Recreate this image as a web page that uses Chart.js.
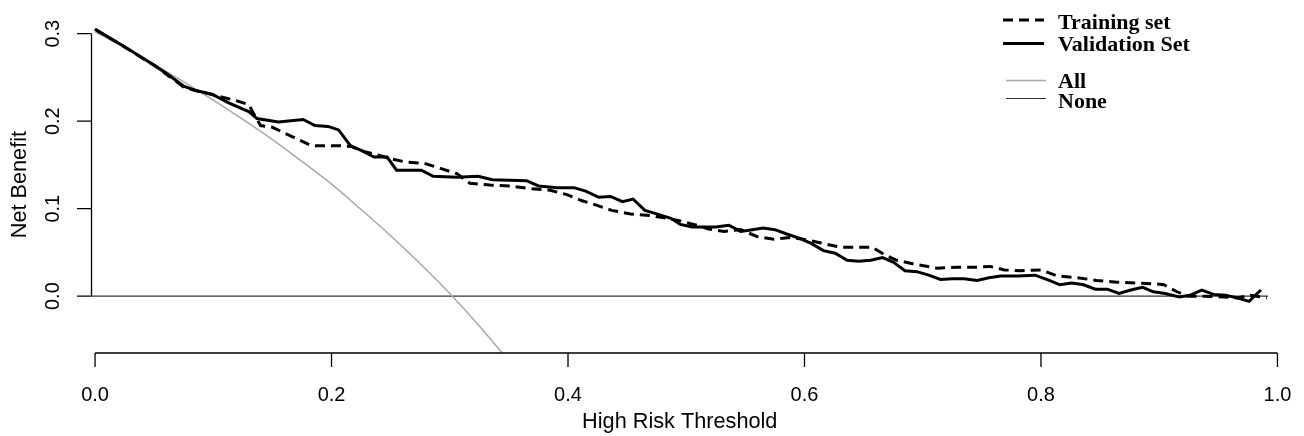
<!DOCTYPE html>
<html><head><meta charset="utf-8">
<script src="https://cdn.jsdelivr.net/npm/chart.js@4.4.1/dist/chart.umd.min.js"></script>
<style>html,body{margin:0;padding:0;background:#fff;}#wrap{width:1304px;height:436px;}</style>
</head><body><div id="wrap"><canvas id="c" width="1304" height="436"></canvas></div>
<script>
// ---- data ----
const seriesNames = ["Training set", "Validation Set", "All", "None"];

const thresholdsTraining = [0.000,0.020,0.051,0.062,0.075,0.085,0.103,0.118,0.130,0.134,0.140,0.150,0.161,0.172,0.183,0.206,0.217,0.228,0.240,0.250,0.264,0.278,0.292,0.306,0.317,0.334,0.351,0.368,0.385,0.399,0.412,0.424,0.437,0.453,0.470,0.484,0.495,0.503,0.512,0.518,0.532,0.546,0.560,0.574,0.588,0.599,0.613,0.630,0.644,0.657,0.667,0.678,0.695,0.712,0.729,0.746,0.757,0.769,0.783,0.800,0.814,0.831,0.847,0.864,0.881,0.898,0.904,0.915,0.924,0.938,0.955,0.966,0.977,0.991];
const netBenefitTraining = [0.305,0.289,0.263,0.252,0.239,0.235,0.229,0.224,0.219,0.209,0.195,0.193,0.186,0.179,0.172,0.172,0.171,0.165,0.161,0.157,0.153,0.152,0.146,0.140,0.129,0.127,0.126,0.123,0.121,0.116,0.109,0.104,0.098,0.094,0.092,0.089,0.086,0.083,0.080,0.077,0.074,0.076,0.068,0.065,0.067,0.065,0.061,0.056,0.056,0.056,0.048,0.041,0.036,0.032,0.033,0.033,0.034,0.030,0.029,0.030,0.023,0.021,0.018,0.016,0.015,0.014,0.013,0.005,0.000,0.000,-0.001,-0.002,0.001,-0.002];

const thresholdsValidation = [0.000,0.025,0.050,0.062,0.075,0.085,0.099,0.113,0.130,0.137,0.155,0.176,0.186,0.197,0.206,0.216,0.226,0.236,0.247,0.255,0.276,0.286,0.306,0.324,0.336,0.365,0.375,0.391,0.405,0.415,0.426,0.436,0.446,0.455,0.465,0.475,0.487,0.495,0.505,0.515,0.525,0.536,0.546,0.556,0.565,0.575,0.585,0.596,0.606,0.616,0.626,0.636,0.646,0.656,0.666,0.675,0.685,0.695,0.705,0.715,0.725,0.735,0.746,0.756,0.766,0.780,0.795,0.807,0.816,0.826,0.836,0.846,0.856,0.866,0.876,0.886,0.895,0.905,0.917,0.926,0.936,0.946,0.956,0.966,0.976,0.986];
const netBenefitValidation = [0.305,0.285,0.264,0.253,0.240,0.235,0.231,0.221,0.211,0.203,0.199,0.202,0.195,0.194,0.190,0.172,0.166,0.159,0.159,0.144,0.144,0.137,0.136,0.137,0.133,0.132,0.126,0.124,0.124,0.120,0.113,0.114,0.108,0.111,0.098,0.094,0.089,0.082,0.079,0.079,0.079,0.081,0.074,0.076,0.078,0.076,0.071,0.066,0.060,0.052,0.049,0.041,0.040,0.041,0.044,0.039,0.029,0.028,0.024,0.019,0.020,0.020,0.018,0.021,0.023,0.023,0.024,0.018,0.013,0.015,0.013,0.008,0.008,0.003,0.007,0.010,0.005,0.003,-0.001,0.001,0.007,0.002,0.001,-0.002,-0.006,0.007];

const thresholdsAll = [0.000,0.025,0.050,0.075,0.100,0.125,0.150,0.175,0.200,0.225,0.250,0.275,0.300,0.325,0.345];
const netBenefitAll = [0.302,0.284,0.265,0.245,0.224,0.202,0.179,0.154,0.128,0.099,0.069,0.037,0.003,-0.034,-0.066];

const thresholdsNone = [-0.01, 1.01];
const netBenefitNone = [0, 0];

const xTickValues = [0, 0.2, 0.4, 0.6, 0.8, 1.0];
const xTickLabels = ["0.0", "0.2", "0.4", "0.6", "0.8", "1.0"];
const yTickValues = [0, 0.1, 0.2, 0.3];
const yTickLabels = ["0.0", "0.1", "0.2", "0.3"];

const xTitle = "High Risk Threshold";
const yTitle = "Net Benefit";

function pairs(xs, ys) { return xs.map((x, i) => ({ x: x, y: ys[i] })); }

const SANS = "'Liberation Sans', Arial, Helvetica, sans-serif";
const SERIF = "'Liberation Serif', 'Times New Roman', serif";

const axisPlugin = {
  id: 'rAxes',
  afterDraw(chart) {
    const ctx = chart.ctx, xs = chart.scales.x, ys = chart.scales.y, ca = chart.chartArea;
    ctx.save();
    ctx.strokeStyle = '#000';
    ctx.fillStyle = '#000';
    ctx.lineWidth = 1.3;
    // y axis
    const yx = ca.left;
    ctx.beginPath();
    ctx.moveTo(yx, ys.getPixelForValue(yTickValues[0]));
    ctx.lineTo(yx, ys.getPixelForValue(yTickValues[yTickValues.length - 1]));
    yTickValues.forEach(v => {
      const p = ys.getPixelForValue(v);
      ctx.moveTo(yx, p); ctx.lineTo(yx - 14.5, p);
    });
    ctx.stroke();
    ctx.font = "20px " + SANS;
    ctx.textAlign = 'center';
    ctx.textBaseline = 'alphabetic';
    yTickValues.forEach((v, i) => {
      const p = ys.getPixelForValue(v);
      ctx.save();
      ctx.translate(59, p);
      ctx.rotate(-Math.PI / 2);
      ctx.fillText(yTickLabels[i], 0, 0);
      ctx.restore();
    });
    // x axis
    const xy = ca.bottom;
    ctx.beginPath();
    ctx.moveTo(xs.getPixelForValue(xTickValues[0]), xy);
    ctx.lineTo(xs.getPixelForValue(xTickValues[xTickValues.length - 1]), xy);
    xTickValues.forEach(v => {
      const p = xs.getPixelForValue(v);
      ctx.moveTo(p, xy); ctx.lineTo(p, xy + 14);
    });
    ctx.stroke();
    ctx.textAlign = 'center';
    xTickValues.forEach((v, i) => {
      ctx.fillText(xTickLabels[i], xs.getPixelForValue(v), 401);
    });
    ctx.restore();
  }
};

const legendPlugin = {
  id: 'rLegend',
  afterDraw(chart) {
    const ctx = chart.ctx;
    const rows = [
      { line: 20, text: 28.5 },
      { line: 43.5, text: 51 },
      { line: 80.5, text: 87.5 },
      { line: 98.5, text: 107.5 }
    ];
    ctx.save();
    ctx.font = "bold 22px " + SERIF;
    ctx.textAlign = 'left';
    ctx.textBaseline = 'alphabetic';
    chart.data.datasets.forEach((ds, i) => {
      const r = rows[i];
      ctx.beginPath();
      ctx.strokeStyle = ds.borderColor;
      ctx.lineWidth = ds.borderWidth;
      ctx.setLineDash(ds.borderDash || []);
      const x0 = i < 2 ? 1003 : 1006, x1 = i < 2 ? 1044 : 1046;
      ctx.moveTo(x0, r.line); ctx.lineTo(x1, r.line);
      ctx.stroke();
      ctx.setLineDash([]);
      ctx.fillStyle = '#000';
      ctx.fillText(ds.label, 1058, r.text);
    });
    ctx.restore();
  }
};

new Chart(document.getElementById('c'), {
  type: 'line',
  data: {
    datasets: [
      { label: seriesNames[0], data: pairs(thresholdsTraining, netBenefitTraining), borderColor: '#000', borderWidth: 3, borderDash: [10, 6], pointRadius: 0, tension: 0, fill: false, order: 2 },
      { label: seriesNames[1], data: pairs(thresholdsValidation, netBenefitValidation), borderColor: '#000', borderWidth: 3, pointRadius: 0, tension: 0, fill: false, order: 1 },
      { label: seriesNames[2], data: pairs(thresholdsAll, netBenefitAll), borderColor: '#a8a8a8', borderWidth: 1.5, pointRadius: 0, tension: 0.4, cubicInterpolationMode: 'monotone', fill: false, order: 3 },
      { label: seriesNames[3], data: pairs(thresholdsNone, netBenefitNone), borderColor: '#333', borderWidth: 1.2, pointRadius: 0, tension: 0, fill: false, order: 4 }
    ]
  },
  options: {
    responsive: false,
    animation: false,
    devicePixelRatio: 1,
    layout: { padding: { top: 16.2, right: 36, left: 0, bottom: 0 } },
    plugins: { legend: { display: false }, tooltip: { enabled: false } },
    scales: {
      x: {
        type: 'linear', min: -0.003, max: 0.992,
        grid: { display: false }, border: { display: false },
        ticks: { display: false },
        afterFit(s) { s.height = 83; },
        title: { display: true, text: xTitle, color: '#000', font: { family: SANS, size: 21.7 }, padding: { top: 0, bottom: 1 } }
      },
      y: {
        type: 'linear', min: -0.065, max: 0.32,
        grid: { display: false }, border: { display: false },
        ticks: { display: false },
        afterFit(s) { s.width = 91.5; },
        title: { display: true, text: yTitle, color: '#000', font: { family: SANS, size: 21.7 }, padding: { top: 7, bottom: 0 } }
      }
    }
  },
  plugins: [axisPlugin, legendPlugin]
});
</script>
</body></html>
